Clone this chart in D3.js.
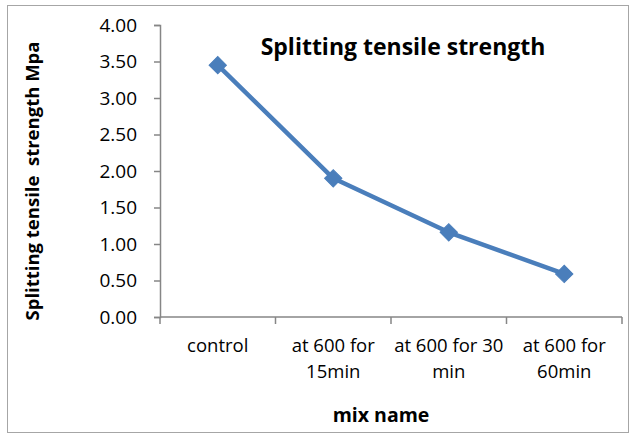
<!DOCTYPE html>
<html>
<head>
<meta charset="utf-8">
<script src="https://cdn.jsdelivr.net/npm/d3@7"></script>
<style>
  body { margin: 0; background: #fff; }
  svg { font-family: "Open Sans", sans-serif; }
</style>
</head>
<body>
<script>
const w = 636;
const h = 434;

const categories = ["control", "at 600 for 15min", "at 600 for 30 min", "at 600 for 60min"];
const catLines = [["control"], ["at 600 for", "15min"], ["at 600 for 30", "min"], ["at 600 for", "60min"]];
const values = [3.45, 1.90, 1.16, 0.59];
const yTicks = [0, 0.5, 1, 1.5, 2, 2.5, 3, 3.5, 4];

const margin = { left: 160, right: 14, top: 25, bottom: 117 };

const svg = d3.select("body").append("svg").attr("width", w).attr("height", h);

// outer frame
svg.append("rect")
  .attr("x", 7.5).attr("y", 5.5)
  .attr("width", 621).attr("height", 427)
  .attr("fill", "#fff").attr("stroke", "#a6a6a6").attr("stroke-width", 1);

const x = d3.scaleBand().domain(categories).range([margin.left, w - margin.right]);
const y = d3.scaleLinear().domain([0, 4]).range([h - margin.bottom, margin.top]);

const axisColor = "#868686";

// y axis
const yAxis = svg.append("g")
  .attr("transform", `translate(${margin.left},0)`)
  .call(d3.axisLeft(y).tickValues(yTicks).tickFormat(d3.format(".2f")).tickSize(6).tickPadding(17));
yAxis.select(".domain").attr("stroke", axisColor).attr("stroke-width", 1.5);
yAxis.selectAll(".tick line").attr("stroke", axisColor).attr("stroke-width", 1.5);
yAxis.selectAll(".tick text").attr("font-size", 19).attr("fill", "#000")
  .attr("font-family", "'Open Sans', sans-serif");

// x axis
const xAxis = svg.append("g")
  .attr("transform", `translate(0,${h - margin.bottom})`)
  .call(d3.axisBottom(x).tickSize(0).tickFormat(""));
xAxis.select(".domain").attr("stroke", axisColor).attr("stroke-width", 1.5)
  .attr("d", `M${margin.left},0H${w - margin.right}`);
xAxis.selectAll(".tick").remove();
const xEdges = categories.map(c => x(c)).concat([x(categories[categories.length - 1]) + x.bandwidth()]);
xAxis.selectAll(".xt")
  .data(xEdges)
  .enter()
  .append("line")
  .attr("x1", d => d).attr("x2", d => d)
  .attr("y1", 0).attr("y2", 7)
  .attr("stroke", axisColor).attr("stroke-width", 1.5);

// x labels
const xl = svg.append("g");
categories.forEach((c, i) => {
  const t = xl.append("text")
    .attr("x", x(c) + x.bandwidth() / 2)
    .attr("text-anchor", "middle")
    .attr("font-size", 18.5)
    .attr("fill", "#000");
  catLines[i].forEach((line, j) => {
    t.append("tspan")
      .attr("x", x(c) + x.bandwidth() / 2)
      .attr("y", 352 + j * 26)
      .text(line);
  });
});

// line
const line = d3.line()
  .x((d, i) => x(categories[i]) + x.bandwidth() / 2)
  .y(d => y(d));
svg.append("path")
  .datum(values)
  .attr("d", line)
  .attr("fill", "none")
  .attr("stroke", "#4a7ebb")
  .attr("stroke-width", 4.5)
  .attr("stroke-linejoin", "round");

svg.selectAll(".marker")
  .data(values)
  .enter()
  .append("path")
  .attr("class", "marker")
  .attr("d", d3.symbol(d3.symbolSquare, 150))
  .attr("transform", (d, i) => `translate(${x(categories[i]) + x.bandwidth() / 2},${y(d)}) rotate(45)`)
  .attr("fill", "#4a7ebb")
  .attr("stroke", "#4a7ebb");

// title
svg.append("text")
  .attr("x", 403).attr("y", 55)
  .attr("text-anchor", "middle")
  .attr("font-size", 23).attr("font-weight", "bold")
  .attr("fill", "#000")
  .text("Splitting tensile strength");

// axis titles
svg.append("text")
  .attr("transform", "translate(39,181) rotate(-90)")
  .attr("text-anchor", "middle")
  .attr("font-size", 18.5).attr("font-weight", "bold")
  .attr("fill", "#000")
  .style("white-space", "pre")
  .text("Splitting tensile  strength Mpa");

svg.append("text")
  .attr("x", 381).attr("y", 422)
  .attr("text-anchor", "middle")
  .attr("font-size", 19.5).attr("font-weight", "bold")
  .attr("fill", "#000")
  .text("mix name");
</script>
</body>
</html>
